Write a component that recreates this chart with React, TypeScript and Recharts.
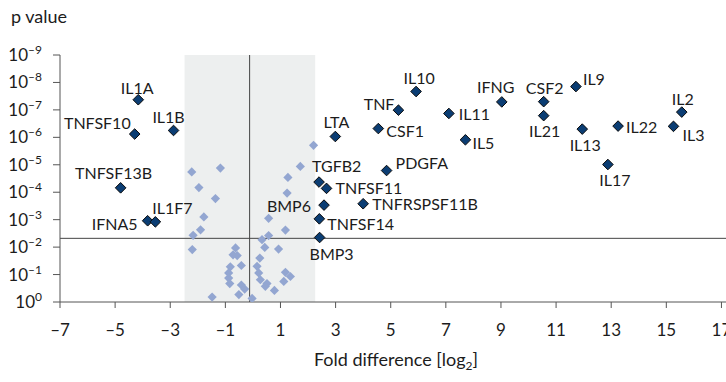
import {
  ScatterChart,
  Scatter,
  XAxis,
  YAxis,
  ReferenceArea,
  ReferenceLine,
} from "recharts";

// labelled cytokine genes: log2 fold difference and -log10(p)
const genes = [
  "IL1A", "TNFSF10", "IL1B", "TNFSF13B", "IFNA5", "IL1F7",
  "IL10", "TNF", "LTA", "CSF1", "IL11", "IL5", "PDGFA",
  "TGFB2", "TNFSF11", "BMP6", "TNFRSPSF11B", "TNFSF14", "BMP3",
  "IFNG", "CSF2", "IL21", "IL9", "IL13", "IL22", "IL17", "IL2", "IL3",
];
const geneFold = [
  -4.16, -4.29, -2.88, -4.8, -3.82, -3.54,
  5.92, 5.28, 2.99, 4.55, 7.11, 7.71, 4.85,
  2.4, 2.67, 2.58, 4.0, 2.41, 2.42,
  9.03, 10.55, 10.55, 11.72, 11.95, 13.25, 12.88, 15.56, 15.26,
];
const geneNegLogP = [
  7.37, 6.12, 6.25, 4.16, 2.96, 2.92,
  7.67, 6.99, 6.03, 6.32, 6.87, 5.91, 4.79,
  4.37, 4.14, 3.53, 3.58, 3.03, 2.35,
  7.29, 7.3, 6.79, 7.85, 6.3, 6.41, 5.01, 6.92, 6.4,
];

// unlabelled genes inside the fold-change window
const otherFold = [
  -2.22, -1.18, -1.96, -1.36, -1.78, -1.9, -2.17, -2.2,
  2.2, 1.72, 1.27, 1.24, 0.57, 1.18, 0.57, 0.33, 0.43, 0.93,
  -0.63, -0.72, -0.57, -0.42, 0.25, 0.15, -0.82, -0.88, -0.88, -0.84,
  -0.42, -0.3, 0.21, 0.27, 0.51, 0.45, 0.78, 1.12, 1.36, 1.18,
  -0.51, -1.48, -0.03,
];
const otherNegLogP = [
  4.74, 4.88, 4.17, 3.77, 3.1, 2.63, 2.43, 1.91,
  5.71, 4.94, 4.54, 3.97, 3.05, 2.62, 2.42, 2.27, 1.99, 1.93,
  1.97, 1.72, 1.69, 1.33, 1.6, 1.3, 1.28, 1.06, 0.87, 0.67,
  0.62, 0.47, 1.06, 0.81, 0.67, 0.57, 0.42, 0.75, 0.93, 1.08,
  0.27, 0.18, 0.13,
];

const xTicks = [-7, -5, -3, -1, 1, 3, 5, 7, 9, 11, 13, 15, 17];
const yTicks = [0, 1, 2, 3, 4, 5, 6, 7, 8, 9];

const pThreshold = 2.32;
const foldWindow = [-2.48, 2.26];
const centreLine = -0.12;

// where each gene name sits relative to its marker: [dx, dy, anchor]
const labelPlace: Record<string, [number, number, "start" | "middle" | "end"]> = {
  IL1A: [-1, -12, "middle"],
  TNFSF10: [-4, -12, "end"],
  IL1B: [-5, -14, "middle"],
  TNFSF13B: [-7, -15, "middle"],
  IFNA5: [-10, 3, "end"],
  IL1F7: [-3, -14, "start"],
  IL10: [3, -14, "middle"],
  TNF: [-4, -7, "end"],
  LTA: [1, -15, "middle"],
  CSF1: [8, 2, "start"],
  IL11: [10, 0, "start"],
  IL5: [7, 3, "start"],
  PDGFA: [9, -8, "start"],
  TGFB2: [-7, -17, "start"],
  TNFSF11: [9, -1, "start"],
  BMP6: [-13, 0, "end"],
  TNFRSPSF11B: [9, 0, "start"],
  TNFSF14: [8, 5, "start"],
  BMP3: [12, 16, "middle"],
  IFNG: [-6, -15, "middle"],
  CSF2: [1, -14, "middle"],
  IL21: [1, 15, "middle"],
  IL9: [7, -8, "start"],
  IL13: [3, 15, "middle"],
  IL22: [8, 0, "start"],
  IL17: [7, 15, "middle"],
  IL2: [1, -14, "middle"],
  IL3: [9, 8, "start"],
};

const geneData = genes.map((name, i) => ({
  name,
  x: geneFold[i],
  y: geneNegLogP[i],
}));
const otherData = otherFold.map((x, i) => ({ x, y: otherNegLogP[i] }));

const FONT = "Lato, 'Noto Sans', sans-serif";
const AXIS = "#555";
const TEXT = "#1c1c1c";

const diamond = (cx: number, cy: number, r: number) =>
  `${cx},${cy - r} ${cx + r},${cy} ${cx},${cy + r} ${cx - r},${cy}`;

const GeneMarker = (props: any) => {
  const { cx, cy, payload } = props;
  const [dx, dy, anchor] = labelPlace[payload.name] ?? [0, -14, "middle"];
  return (
    <g>
      <polygon
        points={diamond(cx, cy, 5.3)}
        fill="#0b3d73"
        stroke="#0a0a0a"
        strokeWidth={1}
      />
      <text
        x={cx + dx}
        y={cy + dy}
        textAnchor={anchor}
        dominantBaseline="central"
        fontFamily={FONT}
        fontSize={16}
        fill={TEXT}
      >
        {payload.name}
      </text>
    </g>
  );
};

const OtherMarker = (props: any) => (
  <polygon points={diamond(props.cx, props.cy, 4.6)} fill="#93a6d1" />
);

// "10" with the exponent raised
const PowerTick = (props: any) => {
  const { x, y, payload } = props;
  const exp = payload.value === 0 ? "0" : `–${payload.value}`;
  return (
    <text
      x={x}
      y={y + 6}
      textAnchor="end"
      fontFamily={FONT}
      fontSize={17}
      fill={TEXT}
    >
      <tspan>10</tspan>
      <tspan dy={-7} fontSize={12}>
        {exp}
      </tspan>
    </text>
  );
};

export default function App() {
  return (
    <div
      style={{
        position: "absolute",
        left: 0,
        top: 0,
        width: 726,
        height: 382,
        overflow: "hidden",
        background: "#fff",
      }}
    >
      <ScatterChart
        width={780}
        height={382}
        margin={{ top: 55, right: 31, bottom: 30, left: 0 }}
      >
        <ReferenceArea
          x1={foldWindow[0]}
          x2={foldWindow[1]}
          y1={0}
          y2={9}
          fill="#edefef"
          fillOpacity={1}
          stroke="none"
        />
        <XAxis
          type="number"
          dataKey="x"
          domain={[-7, 18]}
          ticks={xTicks}
          allowDataOverflow
          height={50}
          tickSize={6}
          tickMargin={16}
          stroke={AXIS}
          tickFormatter={(v: number) => (v < 0 ? `–${-v}` : `${v}`)}
          tick={{ fill: TEXT, fontSize: 17, fontFamily: FONT }}
        />
        <YAxis
          type="number"
          dataKey="y"
          domain={[0, 9]}
          ticks={yTicks}
          allowDataOverflow
          width={60}
          tickSize={7}
          tickMargin={11}
          stroke={AXIS}
          tick={<PowerTick />}
        />
        <ReferenceLine x={centreLine} stroke="#444" strokeWidth={1} />
        <ReferenceLine y={pThreshold} stroke="#444" strokeWidth={1} />
        <Scatter
          data={otherData}
          shape={<OtherMarker />}
          isAnimationActive={false}
        />
        <Scatter
          data={geneData}
          shape={<GeneMarker />}
          isAnimationActive={false}
        />
      </ScatterChart>
      <svg
        width={726}
        height={382}
        style={{ position: "absolute", left: 0, top: 0, pointerEvents: "none" }}
      >
        <text x={11} y={23} fontFamily={FONT} fontSize={18} fill={TEXT}>
          p value
        </text>
        <text
          x={396}
          y={366}
          textAnchor="middle"
          fontFamily={FONT}
          fontSize={18}
          fill={TEXT}
        >
          Fold difference [log
          <tspan dy={4} fontSize={12}>
            2
          </tspan>
          <tspan dy={-4}>]</tspan>
        </text>
      </svg>
    </div>
  );
}
